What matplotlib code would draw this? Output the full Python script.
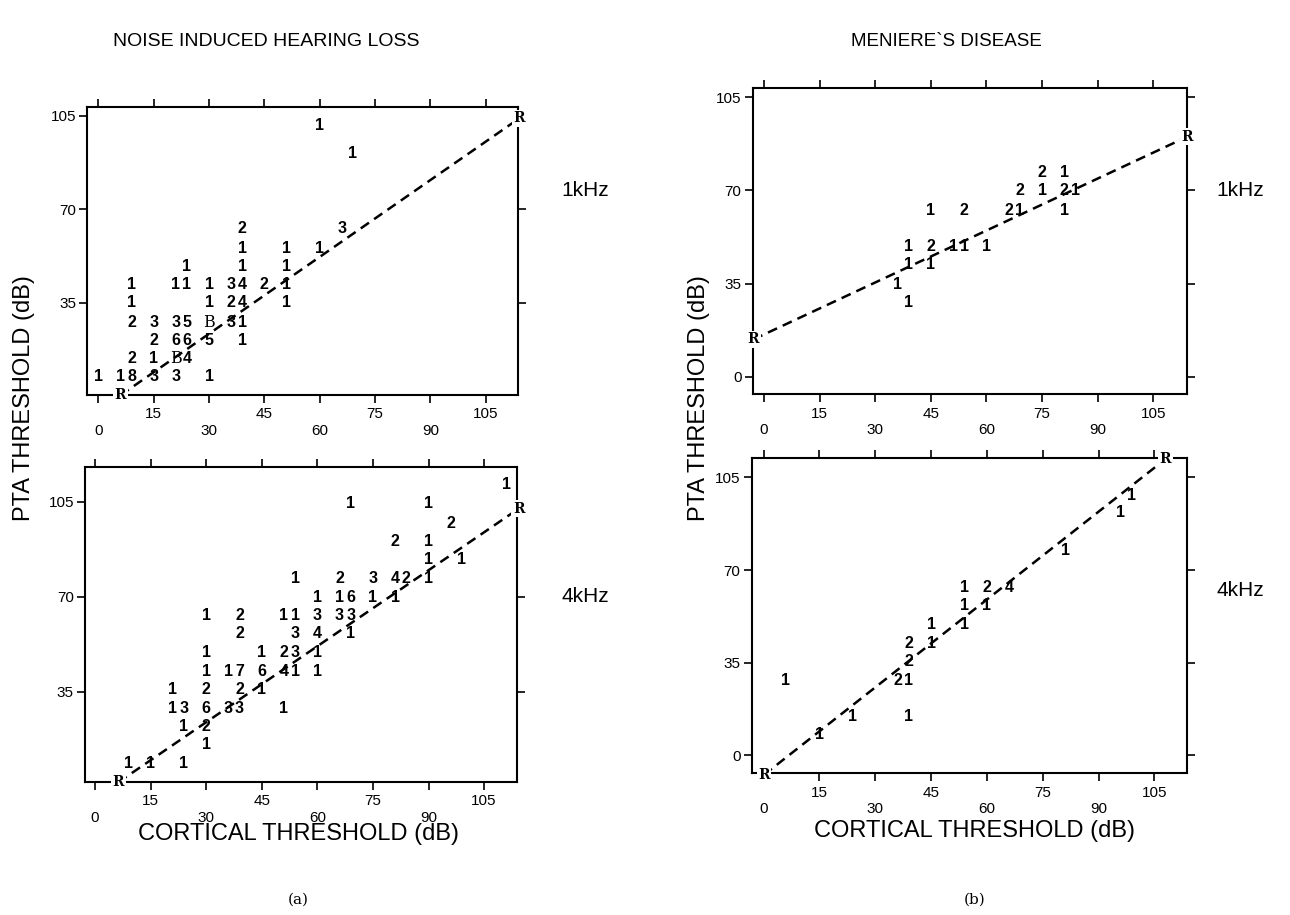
import matplotlib
matplotlib.use('Agg')
import matplotlib.pyplot as plt

# printed counts: column (cortical dB), row (PTA dB), character
# noise induced hearing loss, 1 kHz
tl_x = [39, 66,
        39, 51, 60,
        24, 39, 51,
        9, 21, 24, 30, 36, 39, 45, 51,
        9, 30, 36, 39, 51,
        9, 15, 21, 24, 30, 36, 39,
        15, 21, 24, 30, 39,
        9, 15, 21, 24,
        0, 6, 9, 15, 21, 30,
        69, 60]
tl_y = [62.8, 62.8,
        55.5, 55.5, 55.5,
        48.7, 48.7, 48.7,
        41.8, 41.8, 41.8, 41.8, 41.8, 41.8, 41.8, 41.8,
        35, 35, 35, 35, 35,
        27.8, 27.8, 27.8, 27.8, 27.8, 27.8, 27.8,
        21, 21, 21, 21, 21,
        14.1, 14.1, 14.1, 14.1,
        7.3, 7.3, 7.3, 7.3, 7.3, 7.3,
        90.9, 101.5]
tl_n = ['2', '3',
        '1', '1', '1',
        '1', '1', '1',
        '1', '1', '1', '1', '3', '4', '2', '1',
        '1', '1', '2', '4', '1',
        '2', '3', '3', '5', 'B', '3', '1',
        '2', '6', '6', '5', '1',
        '2', '1', 'B', '4',
        '1', '1', '8', '3', '3', '1',
        '1', '1']
tl_line_x = [6, 114]
tl_line_y = [0.4, 104]

# noise induced hearing loss, 4 kHz
bl_x = [111,
        69, 90,
        96,
        81, 90,
        90, 99,
        54, 66, 75, 81, 84, 90,
        60, 66, 69, 75, 81,
        30, 39, 51, 54, 60, 66, 69,
        39, 54, 60, 69,
        30, 45, 51, 54, 60,
        30, 36, 39, 45, 51, 54, 60,
        21, 30, 39, 45,
        21, 24, 30, 36, 39, 51,
        24, 30,
        30,
        9, 15, 24]
bl_y = [111.3,
        104.5, 104.5,
        97.2,
        90.4, 90.4,
        83.6, 83.6,
        76.9, 76.9, 76.9, 76.9, 76.9, 76.9,
        69.8, 69.8, 69.8, 69.8, 69.8,
        63.1, 63.1, 63.1, 63.1, 63.1, 63.1, 63.1,
        56.3, 56.3, 56.3, 56.3,
        49.4, 49.4, 49.4, 49.4, 49.4,
        42.6, 42.6, 42.6, 42.6, 42.6, 42.6, 42.6,
        35.9, 35.9, 35.9, 35.9,
        28.9, 28.9, 28.9, 28.9, 28.9, 28.9,
        22.1, 22.1,
        15.4,
        8.6, 8.6, 8.6]
bl_n = ['1',
        '1', '1',
        '2',
        '2', '1',
        '1', '1',
        '1', '2', '3', '4', '2', '1',
        '1', '1', '6', '1', '1',
        '1', '2', '1', '1', '3', '3', '3',
        '2', '3', '4', '1',
        '1', '1', '2', '3', '1',
        '1', '1', '7', '6', '4', '1', '1',
        '1', '2', '2', '1',
        '1', '3', '6', '3', '3', '1',
        '1', '2',
        '1',
        '1', '1', '1']
bl_line_x = [6.3, 114.3]
bl_line_y = [1.6, 102.5]

# meniere's disease, 1 kHz
tr_x = [75, 81,
        69, 75, 81, 84,
        45, 54, 66, 69, 81,
        39, 45, 51, 54, 60,
        39, 45,
        36,
        39]
tr_y = [76.7, 76.7,
        69.9, 69.9, 69.9, 69.9,
        62.6, 62.6, 62.6, 62.6, 62.6,
        48.9, 48.9, 48.9, 48.9, 48.9,
        42, 42,
        34.8,
        28]
tr_n = ['2', '1',
        '2', '1', '2', '1',
        '1', '2', '2', '1', '1',
        '1', '2', '1', '1', '1',
        '1', '1',
        '1',
        '1']
tr_line_x = [-2.9, 114.2]
tr_line_y = [14, 90.2]

# meniere's disease, 4 kHz
br_x = [99,
        96,
        81,
        54, 60, 66,
        54, 60,
        45, 54,
        39, 45,
        39,
        6, 36, 39,
        24, 39,
        15]
br_y = [98.3,
        91.6,
        77.5,
        63.3, 63.3, 63.3,
        56.5, 56.5,
        49.5, 49.5,
        42.3, 42.3,
        35.3,
        28.4, 28.4, 28.4,
        14.6, 14.6,
        7.7]
br_n = ['1',
        '1',
        '1',
        '1', '2', '4',
        '1', '1',
        '1', '1',
        '2', '1',
        '2',
        '1', '2', '1',
        '1', '1',
        '1']
br_line_x = [0.1, 107.9]
br_line_y = [-7.4, 111.8]

W, H = 1290, 915
fig = plt.figure(figsize=(W / 100, H / 100), dpi=100)
plt.rcParams['font.family'] = ['Liberation Sans', 'DejaVu Sans']


def panel(box, xlim, ylim, xs, ys, labels, lx, ly):
    # box given in pixels: left, top, right, bottom
    l, t, r, b = box
    ax = fig.add_axes([l / W, 1 - b / H, (r - l) / W, (b - t) / H])
    ax.set_xlim(*xlim)
    ax.set_ylim(*ylim)
    for x, y, s in zip(xs, ys, labels):
        if s == 'B':
            ax.text(x, y, s, ha='center', va='center', fontsize=11.5,
                    family='DejaVu Serif', zorder=3)
        else:
            ax.text(x, y, s, ha='center', va='center', fontsize=11.5,
                    fontweight='bold', zorder=3)
    ax.plot(lx, ly, color='black', lw=1.8, ls=(0, (4, 2.5)), zorder=2,
            clip_on=False)
    for x, y in zip(lx, ly):
        ax.text(x, y, 'R', ha='center', va='center', fontsize=10,
                family='DejaVu Serif', fontweight='bold', zorder=5, clip_on=False,
                bbox=dict(facecolor='white', edgecolor='none', pad=1.2))
    ax.set_xticks([0, 30, 60, 90])
    ax.set_xticklabels(['0', '30', '60', '90'])
    ax.set_xticks([15, 45, 75, 105], minor=True)
    ax.set_xticklabels(['15', '45', '75', '105'], minor=True)
    ax.set_yticks([t for t in [0, 35, 70, 105] if ylim[0] <= t <= ylim[1]])
    ax.tick_params(axis='both', which='both', direction='out', length=6,
                   width=1.2, top=True, right=True, labelsize=11)
    ax.tick_params(axis='x', which='major', pad=15)
    ax.tick_params(axis='x', which='minor', pad=3)
    ax.tick_params(axis='y', pad=2)
    for sp in ax.spines.values():
        sp.set_linewidth(1.5)
    return ax


panel((87.3, 107, 518.3, 395), (-3, 113.8), (0.5, 108.3), tl_x, tl_y, tl_n, tl_line_x, tl_line_y)
panel((85, 466.7, 516.7, 781.7), (-2.7, 113.8), (1.8, 118), bl_x, bl_y, bl_n, bl_line_x, bl_line_y)
panel((752.7, 88, 1187.3, 394), (-3.05, 114.2), (-6.5, 108.5), tr_x, tr_y, tr_n, tr_line_x, tr_line_y)
panel((751.7, 458.3, 1186.7, 773.3), (-3.2, 113.7), (-6.8, 112.2), br_x, br_y, br_n, br_line_x, br_line_y)


def ftext(x, y, s, **kw):
    fig.text(x / W, 1 - y / H, s, ha='center', va='center', **kw)


ftext(266, 42, 'NOISE INDUCED HEARING LOSS', fontsize=14)
ftext(946, 42, 'MENIERE`S DISEASE', fontsize=13.5)
ftext(585, 190, '1kHz', fontsize=15)
ftext(1240, 190, '1kHz', fontsize=15)
ftext(585, 597, '4kHz', fontsize=15)
ftext(1240, 590, '4kHz', fontsize=15)
ftext(24, 398, 'PTA THRESHOLD (dB)', fontsize=17, rotation=90)
ftext(699, 398, 'PTA THRESHOLD (dB)', fontsize=17, rotation=90)
ftext(298, 834, 'CORTICAL THRESHOLD (dB)', fontsize=17)
ftext(975, 831, 'CORTICAL THRESHOLD (dB)', fontsize=17)
ftext(298, 900, '(a)', fontsize=11, family='DejaVu Serif')
ftext(975, 900, '(b)', fontsize=11, family='DejaVu Serif')

fig.savefig('out.png', dpi=100)
